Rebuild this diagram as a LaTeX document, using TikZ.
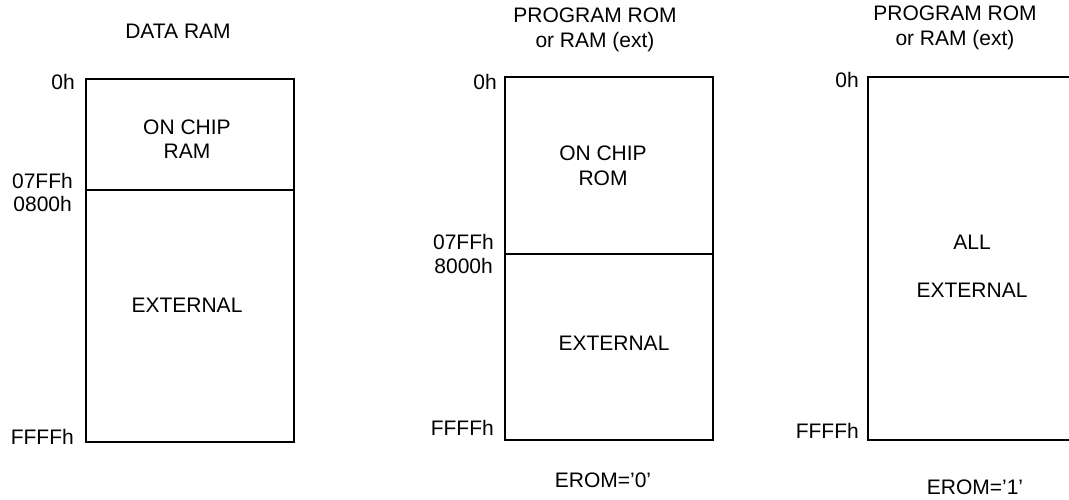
\documentclass[tikz,border=0pt]{standalone}
\usepackage{fontspec}
\setmainfont{Liberation Sans}
\begin{document}
\begin{tikzpicture}[x=1pt,y=-1pt,
  memblock/.style={draw, line width=1.6pt, inner sep=0pt, anchor=north west, minimum width=208pt},
  lbl/.style={inner sep=0pt, font=\fontsize{21}{24.5}\selectfont, align=center},
  addr/.style={lbl, anchor=east}]
\useasboundingbox (0,0) rectangle (1069,499);
% panel 1
\node[lbl] (t1) at (178,31) {DATA RAM};
\node[memblock, minimum height=363pt] (b1) at (85,78) {};
\coordinate (d1l) at (85,190);
\coordinate (d1r) at (293,190);
\draw[line width=1.6pt] (d1l) -- (d1r);
\node[lbl] (oc1) at (187,139) {ON CHIP\\RAM};
\node[lbl] (ex1) at (187,305) {EXTERNAL};
\node[addr] (a10) at (75,82) {0h};
\node[addr] (a11) at (73,181) {07FFh};
\node[addr] (a12) at (72,204) {0800h};
\node[addr] (a13) at (74,437) {FFFFh};
% panel 2
\node[lbl] (t2) at (595,30) {PROGRAM ROM\\or RAM (ext)};
\node[memblock, minimum height=363pt] (b2) at (504,76) {};
\coordinate (d2l) at (504,254);
\coordinate (d2r) at (712,254);
\draw[line width=1.6pt] (d2l) -- (d2r);
\node[lbl] (oc2) at (603,166) {ON CHIP\\ROM};
\node[lbl] (ex2) at (614,343) {EXTERNAL};
\node[addr] (a20) at (497,82) {0h};
\node[addr] (a21) at (494,242) {07FFh};
\node[addr] (a22) at (493,266) {8000h};
\node[addr] (a23) at (494,428) {FFFFh};
\node[lbl] (e2) at (603,480) {EROM='0'};
% panel 3
\node[lbl] (t3) at (955,28) {PROGRAM ROM\\or RAM (ext)};
\node[memblock, minimum height=363pt] (b3) at (867,76) {};
\node[lbl] (al3) at (972,242) {ALL};
\node[lbl] (ex3) at (972,290) {EXTERNAL};
\node[addr] (a30) at (859,80) {0h};
\node[addr] (a33) at (859,431) {FFFFh};
\node[lbl] (e3) at (975,487) {EROM='1'};
\end{tikzpicture}
\end{document}
